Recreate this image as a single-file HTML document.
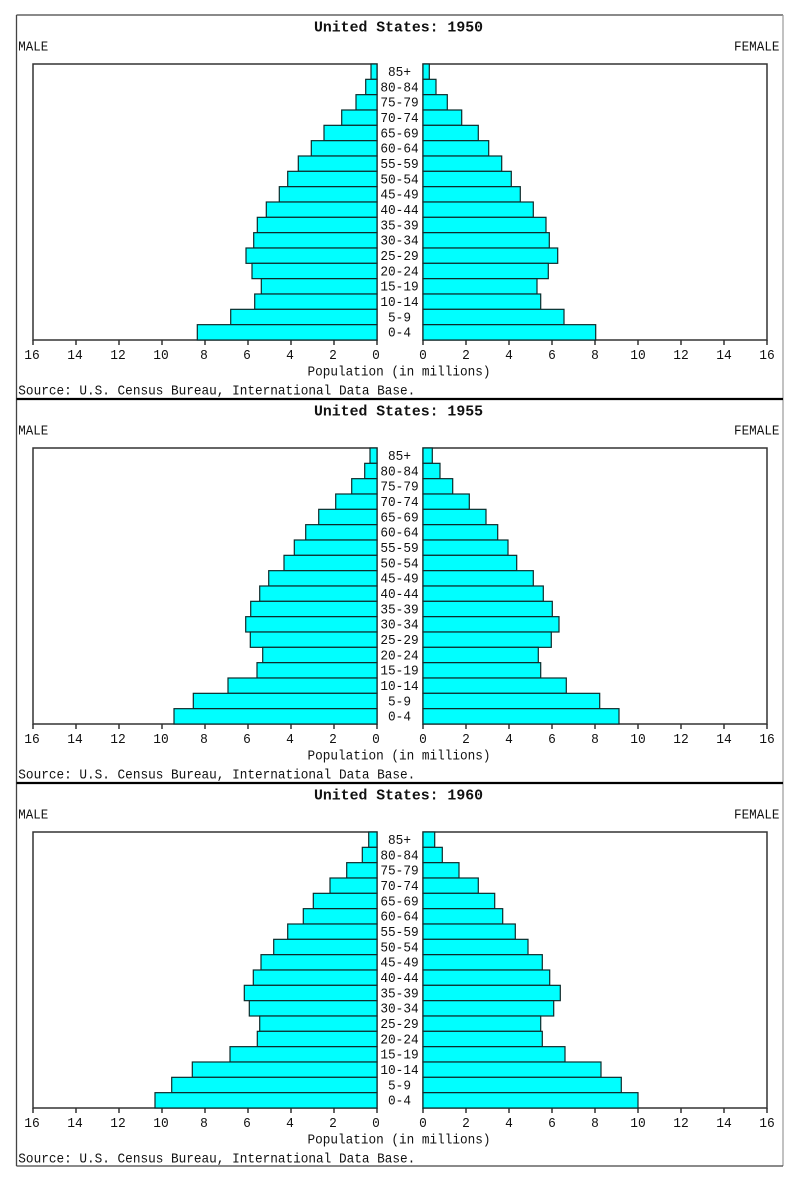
<!DOCTYPE html>
<html>
<head>
<meta charset="utf-8">
<style>
html,body{margin:0;padding:0;background:#fff;}
svg{display:block;}
text{font-family:"Liberation Mono","DejaVu Sans Mono",monospace;fill:#111;}
.t{font-size:15px;font-weight:bold;}
.s{font-size:14px;}
.a{font-size:13.5px;}
.m rect,.f rect{fill:#00ffff;stroke:#0d2b2b;stroke-width:1.2;}
.fr{fill:none;stroke:#333;stroke-width:1.5;}
.tk{stroke:#333;stroke-width:1.5;}
</style>
</head>
<body>
<svg width="800" height="1185" viewBox="0 0 800 1185" xmlns="http://www.w3.org/2000/svg">
<rect x="0" y="0" width="800" height="1185" fill="#fff"/>
<!-- outer border -->
<line x1="16.5" y1="15" x2="783" y2="15" stroke="#444" stroke-width="1.3"/>
<line x1="16.5" y1="15" x2="16.5" y2="1166" stroke="#444" stroke-width="1.3"/>
<line x1="783" y1="15" x2="783" y2="1166" stroke="#999" stroke-width="1.2"/>
<line x1="16.5" y1="1166" x2="783" y2="1166" stroke="#444" stroke-width="1.3"/>
<line x1="16.5" y1="399" x2="783" y2="399" stroke="#000" stroke-width="2.2"/>
<line x1="16.5" y1="783" x2="783" y2="783" stroke="#000" stroke-width="2.2"/>

<defs>
<g id="common">
  <text class="s" x="18.3" y="50.5" textLength="30" lengthAdjust="spacingAndGlyphs">MALE</text>
  <text class="s" x="734" y="50.5" textLength="45.5" lengthAdjust="spacingAndGlyphs">FEMALE</text>
  <rect class="fr" x="33" y="64" width="344" height="276"/>
  <rect class="fr" x="423" y="64" width="344" height="276"/>
  <g>
    <line class="tk" x1="33" y1="340" x2="33" y2="345"/>
    <line class="tk" x1="76" y1="340" x2="76" y2="345"/>
    <line class="tk" x1="119" y1="340" x2="119" y2="345"/>
    <line class="tk" x1="162" y1="340" x2="162" y2="345"/>
    <line class="tk" x1="205" y1="340" x2="205" y2="345"/>
    <line class="tk" x1="248" y1="340" x2="248" y2="345"/>
    <line class="tk" x1="291" y1="340" x2="291" y2="345"/>
    <line class="tk" x1="334" y1="340" x2="334" y2="345"/>
    <line class="tk" x1="377" y1="340" x2="377" y2="345"/>
    <line class="tk" x1="423" y1="340" x2="423" y2="345"/>
    <line class="tk" x1="466" y1="340" x2="466" y2="345"/>
    <line class="tk" x1="509" y1="340" x2="509" y2="345"/>
    <line class="tk" x1="552" y1="340" x2="552" y2="345"/>
    <line class="tk" x1="595" y1="340" x2="595" y2="345"/>
    <line class="tk" x1="638" y1="340" x2="638" y2="345"/>
    <line class="tk" x1="681" y1="340" x2="681" y2="345"/>
    <line class="tk" x1="724" y1="340" x2="724" y2="345"/>
    <line class="tk" x1="767" y1="340" x2="767" y2="345"/>
  </g>
  <g class="s" text-anchor="middle">
    <text x="32" y="359" textLength="15.5" lengthAdjust="spacingAndGlyphs">16</text>
    <text x="75" y="359" textLength="15.5" lengthAdjust="spacingAndGlyphs">14</text>
    <text x="118" y="359" textLength="15.5" lengthAdjust="spacingAndGlyphs">12</text>
    <text x="161" y="359" textLength="15.5" lengthAdjust="spacingAndGlyphs">10</text>
    <text x="204" y="359" textLength="7.7" lengthAdjust="spacingAndGlyphs">8</text>
    <text x="247" y="359" textLength="7.7" lengthAdjust="spacingAndGlyphs">6</text>
    <text x="290" y="359" textLength="7.7" lengthAdjust="spacingAndGlyphs">4</text>
    <text x="333" y="359" textLength="7.7" lengthAdjust="spacingAndGlyphs">2</text>
    <text x="376" y="359" textLength="7.7" lengthAdjust="spacingAndGlyphs">0</text>
    <text x="423" y="359" textLength="7.7" lengthAdjust="spacingAndGlyphs">0</text>
    <text x="466" y="359" textLength="7.7" lengthAdjust="spacingAndGlyphs">2</text>
    <text x="509" y="359" textLength="7.7" lengthAdjust="spacingAndGlyphs">4</text>
    <text x="552" y="359" textLength="7.7" lengthAdjust="spacingAndGlyphs">6</text>
    <text x="595" y="359" textLength="7.7" lengthAdjust="spacingAndGlyphs">8</text>
    <text x="638" y="359" textLength="15.5" lengthAdjust="spacingAndGlyphs">10</text>
    <text x="681" y="359" textLength="15.5" lengthAdjust="spacingAndGlyphs">12</text>
    <text x="724" y="359" textLength="15.5" lengthAdjust="spacingAndGlyphs">14</text>
    <text x="767" y="359" textLength="15.5" lengthAdjust="spacingAndGlyphs">16</text>
  </g>
  <text class="s" x="307.5" y="375.5" textLength="183" lengthAdjust="spacingAndGlyphs">Population (in millions)</text>
  <text class="s" x="18.3" y="394.5" textLength="397" lengthAdjust="spacingAndGlyphs">Source: U.S. Census Bureau, International Data Base.</text>
  <g class="a" text-anchor="middle">
    <text x="399.5" y="76" textLength="23" lengthAdjust="spacingAndGlyphs">85+</text>
    <text x="399.5" y="91.3" textLength="38.3" lengthAdjust="spacingAndGlyphs">80-84</text>
    <text x="399.5" y="106.7" textLength="38.3" lengthAdjust="spacingAndGlyphs">75-79</text>
    <text x="399.5" y="122" textLength="38.3" lengthAdjust="spacingAndGlyphs">70-74</text>
    <text x="399.5" y="137.3" textLength="38.3" lengthAdjust="spacingAndGlyphs">65-69</text>
    <text x="399.5" y="152.7" textLength="38.3" lengthAdjust="spacingAndGlyphs">60-64</text>
    <text x="399.5" y="168" textLength="38.3" lengthAdjust="spacingAndGlyphs">55-59</text>
    <text x="399.5" y="183.3" textLength="38.3" lengthAdjust="spacingAndGlyphs">50-54</text>
    <text x="399.5" y="198.7" textLength="38.3" lengthAdjust="spacingAndGlyphs">45-49</text>
    <text x="399.5" y="214" textLength="38.3" lengthAdjust="spacingAndGlyphs">40-44</text>
    <text x="399.5" y="229.3" textLength="38.3" lengthAdjust="spacingAndGlyphs">35-39</text>
    <text x="399.5" y="244.7" textLength="38.3" lengthAdjust="spacingAndGlyphs">30-34</text>
    <text x="399.5" y="260" textLength="38.3" lengthAdjust="spacingAndGlyphs">25-29</text>
    <text x="399.5" y="275.3" textLength="38.3" lengthAdjust="spacingAndGlyphs">20-24</text>
    <text x="399.5" y="290.7" textLength="38.3" lengthAdjust="spacingAndGlyphs">15-19</text>
    <text x="399.5" y="306" textLength="38.3" lengthAdjust="spacingAndGlyphs">10-14</text>
    <text x="399.5" y="321.3" textLength="23" lengthAdjust="spacingAndGlyphs">5-9</text>
    <text x="399.5" y="336.7" textLength="23" lengthAdjust="spacingAndGlyphs">0-4</text>
  </g>
</g>
</defs>

<!-- ===== Panel 1: 1950 ===== -->
<g>
  <text class="t" x="314" y="31.5" textLength="169" lengthAdjust="spacingAndGlyphs">United States: 1950</text>
  <use href="#common"/>
  <g class="m">
    <rect x="371" y="64" width="6" height="15.33"/>
    <rect x="365.7" y="79.33" width="11.3" height="15.33"/>
    <rect x="356" y="94.67" width="21" height="15.33"/>
    <rect x="341.7" y="110" width="35.3" height="15.33"/>
    <rect x="324" y="125.33" width="53" height="15.33"/>
    <rect x="311.3" y="140.67" width="65.7" height="15.33"/>
    <rect x="298.3" y="156" width="78.7" height="15.33"/>
    <rect x="287.7" y="171.33" width="89.3" height="15.33"/>
    <rect x="279.3" y="186.67" width="97.7" height="15.33"/>
    <rect x="266.3" y="202" width="110.7" height="15.33"/>
    <rect x="257.3" y="217.33" width="119.7" height="15.33"/>
    <rect x="253.7" y="232.67" width="123.3" height="15.33"/>
    <rect x="246" y="248" width="131" height="15.33"/>
    <rect x="252" y="263.33" width="125" height="15.33"/>
    <rect x="261.3" y="278.67" width="115.7" height="15.33"/>
    <rect x="254.7" y="294" width="122.3" height="15.33"/>
    <rect x="230.7" y="309.33" width="146.3" height="15.33"/>
    <rect x="197.3" y="324.67" width="179.7" height="15.33"/>
  </g>
  <g class="f">
    <rect x="423" y="64" width="6.3" height="15.33"/>
    <rect x="423" y="79.33" width="13" height="15.33"/>
    <rect x="423" y="94.67" width="24.3" height="15.33"/>
    <rect x="423" y="110" width="38.7" height="15.33"/>
    <rect x="423" y="125.33" width="55.3" height="15.33"/>
    <rect x="423" y="140.67" width="65.7" height="15.33"/>
    <rect x="423" y="156" width="78.7" height="15.33"/>
    <rect x="423" y="171.33" width="88.3" height="15.33"/>
    <rect x="423" y="186.67" width="97.3" height="15.33"/>
    <rect x="423" y="202" width="110.3" height="15.33"/>
    <rect x="423" y="217.33" width="123" height="15.33"/>
    <rect x="423" y="232.67" width="126.3" height="15.33"/>
    <rect x="423" y="248" width="134.7" height="15.33"/>
    <rect x="423" y="263.33" width="125.3" height="15.33"/>
    <rect x="423" y="278.67" width="114" height="15.33"/>
    <rect x="423" y="294" width="117.7" height="15.33"/>
    <rect x="423" y="309.33" width="141" height="15.33"/>
    <rect x="423" y="324.67" width="172.7" height="15.33"/>
  </g>
</g>

<!-- ===== Panel 2: 1955 ===== -->
<g transform="translate(0,384)">
  <text class="t" x="314" y="31.5" textLength="169" lengthAdjust="spacingAndGlyphs">United States: 1955</text>
  <use href="#common"/>
  <g class="m">
    <rect x="370" y="64" width="7" height="15.33"/>
    <rect x="364.7" y="79.33" width="12.3" height="15.33"/>
    <rect x="351.7" y="94.67" width="25.3" height="15.33"/>
    <rect x="335.7" y="110" width="41.3" height="15.33"/>
    <rect x="318.7" y="125.33" width="58.3" height="15.33"/>
    <rect x="305.7" y="140.67" width="71.3" height="15.33"/>
    <rect x="294.3" y="156" width="82.7" height="15.33"/>
    <rect x="284" y="171.33" width="93" height="15.33"/>
    <rect x="268.7" y="186.67" width="108.3" height="15.33"/>
    <rect x="259.7" y="202" width="117.3" height="15.33"/>
    <rect x="250.7" y="217.33" width="126.3" height="15.33"/>
    <rect x="245.7" y="232.67" width="131.3" height="15.33"/>
    <rect x="250.3" y="248" width="126.7" height="15.33"/>
    <rect x="262.7" y="263.33" width="114.3" height="15.33"/>
    <rect x="257" y="278.67" width="120" height="15.33"/>
    <rect x="228" y="294" width="149" height="15.33"/>
    <rect x="193.3" y="309.33" width="183.7" height="15.33"/>
    <rect x="174" y="324.67" width="203" height="15.33"/>
  </g>
  <g class="f">
    <rect x="423" y="64" width="9.3" height="15.33"/>
    <rect x="423" y="79.33" width="17" height="15.33"/>
    <rect x="423" y="94.67" width="29.7" height="15.33"/>
    <rect x="423" y="110" width="46.3" height="15.33"/>
    <rect x="423" y="125.33" width="63" height="15.33"/>
    <rect x="423" y="140.67" width="74.7" height="15.33"/>
    <rect x="423" y="156" width="85" height="15.33"/>
    <rect x="423" y="171.33" width="93.7" height="15.33"/>
    <rect x="423" y="186.67" width="110.3" height="15.33"/>
    <rect x="423" y="202" width="120.3" height="15.33"/>
    <rect x="423" y="217.33" width="129.3" height="15.33"/>
    <rect x="423" y="232.67" width="136" height="15.33"/>
    <rect x="423" y="248" width="128.3" height="15.33"/>
    <rect x="423" y="263.33" width="115.3" height="15.33"/>
    <rect x="423" y="278.67" width="117.7" height="15.33"/>
    <rect x="423" y="294" width="143.3" height="15.33"/>
    <rect x="423" y="309.33" width="176.7" height="15.33"/>
    <rect x="423" y="324.67" width="196" height="15.33"/>
  </g>
</g>

<!-- ===== Panel 3: 1960 ===== -->
<g transform="translate(0,768)">
  <text class="t" x="314" y="31.5" textLength="169" lengthAdjust="spacingAndGlyphs">United States: 1960</text>
  <use href="#common"/>
  <g class="m">
    <rect x="368.7" y="64" width="8.3" height="15.33"/>
    <rect x="362.3" y="79.33" width="14.7" height="15.33"/>
    <rect x="346.7" y="94.67" width="30.3" height="15.33"/>
    <rect x="330" y="110" width="47" height="15.33"/>
    <rect x="313.3" y="125.33" width="63.7" height="15.33"/>
    <rect x="303.3" y="140.67" width="73.7" height="15.33"/>
    <rect x="287.7" y="156" width="89.3" height="15.33"/>
    <rect x="273.7" y="171.33" width="103.3" height="15.33"/>
    <rect x="261" y="186.67" width="116" height="15.33"/>
    <rect x="253.3" y="202" width="123.7" height="15.33"/>
    <rect x="244.3" y="217.33" width="132.7" height="15.33"/>
    <rect x="249.3" y="232.67" width="127.7" height="15.33"/>
    <rect x="259.7" y="248" width="117.3" height="15.33"/>
    <rect x="257.3" y="263.33" width="119.7" height="15.33"/>
    <rect x="230" y="278.67" width="147" height="15.33"/>
    <rect x="192.3" y="294" width="184.7" height="15.33"/>
    <rect x="171.7" y="309.33" width="205.3" height="15.33"/>
    <rect x="155" y="324.67" width="222" height="15.33"/>
  </g>
  <g class="f">
    <rect x="423" y="64" width="11.7" height="15.33"/>
    <rect x="423" y="79.33" width="19.3" height="15.33"/>
    <rect x="423" y="94.67" width="36" height="15.33"/>
    <rect x="423" y="110" width="55.3" height="15.33"/>
    <rect x="423" y="125.33" width="71.7" height="15.33"/>
    <rect x="423" y="140.67" width="79.7" height="15.33"/>
    <rect x="423" y="156" width="92.3" height="15.33"/>
    <rect x="423" y="171.33" width="105" height="15.33"/>
    <rect x="423" y="186.67" width="119.3" height="15.33"/>
    <rect x="423" y="202" width="126.7" height="15.33"/>
    <rect x="423" y="217.33" width="137.3" height="15.33"/>
    <rect x="423" y="232.67" width="130.7" height="15.33"/>
    <rect x="423" y="248" width="117.7" height="15.33"/>
    <rect x="423" y="263.33" width="119.3" height="15.33"/>
    <rect x="423" y="278.67" width="142" height="15.33"/>
    <rect x="423" y="294" width="178" height="15.33"/>
    <rect x="423" y="309.33" width="198.3" height="15.33"/>
    <rect x="423" y="324.67" width="215" height="15.33"/>
  </g>
</g>
</svg>
</body>
</html>
